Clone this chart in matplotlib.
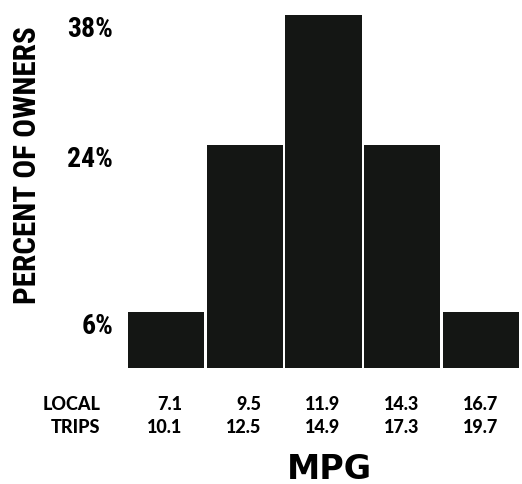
import matplotlib
matplotlib.use('Agg')
from matplotlib import pyplot as plt
from matplotlib import font_manager
import os
import numpy as np

local = ['7.1', '9.5', '11.9', '14.3', '16.7']
trips = ['10.1', '12.5', '14.9', '17.3', '19.7']
owners = [6, 24, 38, 24, 6]
pct_ticks = [38, 24, 6]


def static_font(name, styles):
    # pick a static font file by its style word so the weight is fixed
    files = [f.fname for f in font_manager.fontManager.ttflist if f.name == name]
    files = [p for p in files if '[' not in p and 'Variable' not in p and 'Italic' not in p]
    for st in styles:
        for p in sorted(files):
            base = os.path.splitext(os.path.basename(p))[0]
            if base.endswith('-' + st):
                return p
    return None


cond_file = static_font('Roboto Condensed', ['Bold'])
geo_file = static_font('Lato', ['Heavy', 'Black', 'Bold'])


def fp(path, size):
    if path:
        return font_manager.FontProperties(fname=path, size=size)
    return font_manager.FontProperties(family='DejaVu Sans', weight='bold', size=size)


fig = plt.figure(figsize=(5.22, 4.85), dpi=100)
ax = fig.add_axes([127/522, 116/485, 393/522, 353/485])

x = np.arange(len(owners))
ax.bar(x, owners, width=0.965, color='#141614')
ax.set_xlim(-0.49, 4.49)
ax.set_ylim(0, 38)

for s in ax.spines.values():
    s.set_visible(False)
ax.set_xticks([])
ax.set_yticks(pct_ticks, [f'{p}%' for p in pct_ticks])
ax.tick_params(axis='y', length=0, pad=10)
for lbl in ax.get_yticklabels():
    lbl.set_va('top')
    lbl.set_fontproperties(fp(cond_file, 20))

# two rows of mpg values under each bar
for i in x:
    ax.annotate(local[i], xy=(i, 0), xycoords=('data', 'axes fraction'),
                xytext=(17, -36), textcoords='offset pixels',
                ha='right', va='center', fontproperties=fp(geo_file, 13))
    ax.annotate(trips[i], xy=(i, 0), xycoords=('data', 'axes fraction'),
                xytext=(17, -59), textcoords='offset pixels',
                ha='right', va='center', fontproperties=fp(geo_file, 13))
ax.annotate('LOCAL', xy=(0, 0), xycoords='axes fraction', xytext=(-27, -36),
            textcoords='offset pixels', ha='right', va='center',
            fontproperties=fp(geo_file, 13))
ax.annotate('TRIPS', xy=(0, 0), xycoords='axes fraction', xytext=(-27, -59),
            textcoords='offset pixels', ha='right', va='center',
            fontproperties=fp(geo_file, 13))

fig.text(329/522, 1 - 470/485, 'MPG', ha='center', va='center',
         family=['DejaVu Sans'], fontweight='bold', fontsize=24)
fig.text(27/522, 1 - 165/485, 'PERCENT OF OWNERS', rotation=90,
         ha='center', va='center', fontproperties=fp(cond_file, 22.5))

fig.savefig('out.png', dpi=100)
